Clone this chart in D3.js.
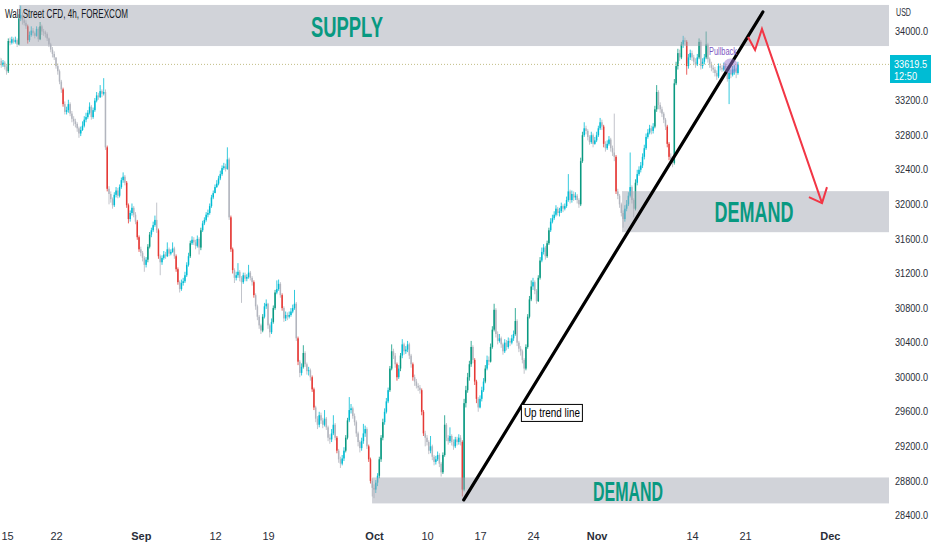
<!DOCTYPE html>
<html>
<head>
<meta charset="utf-8">
<script src="https://cdn.jsdelivr.net/npm/d3@7"></script>
<style>
  html, body { margin: 0; padding: 0; background: #fff; }
  svg { display: block; }
  text { font-family: "Liberation Sans Narrow", "Liberation Sans", Arial, sans-serif; }
</style>
</head>
<body>
<svg id="chart"></svg>
<script>
// Wall Street CFD, 4h bars, 12 Aug - 18 Nov. Each bar opens at the previous close.
const firstOpen = 33700;

const closes = [
  33660, 33610,
  33640, 33590, 33540, 33890, 33870, 33910,   // Aug 15
  33880, 33900, 33850, 34150, 34190, 34130,
  34100, 34060, 33900, 33960, 34010, 33980,
  33950, 34030, 33910, 34060, 34000, 33990,
  33970, 33920, 33850, 33790, 33740, 33700,
  33600, 33540, 33420, 33330, 33160, 33070,   // Aug 22
  33090, 33160, 33050, 32990, 32960, 32930,
  32880, 32820, 32860, 32910, 32980, 33010,
  33060, 33130, 33010, 33090, 33200, 33260,
  33240, 33310, 33280, 33300, 32660, 32180,
  32120, 32060, 31990, 32110, 32160, 32100,   // Aug 29
  32200, 32280, 32320, 32250, 31990, 31830,
  31900, 31960, 31880, 31800, 31620, 31480,
  31440, 31380, 31300, 31360, 31510, 31650,
  31700, 31760, 31820, 31700, 31400, 31330,
  31380, 31420, 31400, 31480, 31430, 31450,   // Sep 5
  31490, 31400, 31250, 31100, 31020, 31090,
  31110, 31180, 31300, 31400, 31550, 31590,
  31560, 31520, 31600, 31500, 31700, 31780,
  31820, 31880, 31900, 31980, 32080, 32130,
  32200, 32240, 32300, 32350, 32420, 32440,   // Sep 12
  32410, 32520, 31850, 31480, 31240, 31150,
  31180, 31220, 31150, 31100, 31180, 31140,
  31160, 31210, 31150, 31100, 30950, 30820,
  30700, 30600, 30540, 30700, 30820, 30850,
  30600, 30520, 30640, 30800, 30980, 31020,   // Sep 19
  31080, 30950, 30800, 30680, 30720, 30700,
  30720, 30760, 30800, 30850, 30450, 30180,
  30050, 30120, 30280, 30150, 30070, 30080,
  30000, 29860, 29650, 29520, 29450, 29560,
  29500, 29450, 29520, 29420, 29300, 29280,   // Sep 26
  29350, 29450, 29300, 29150, 29050, 29000,
  29060, 29150, 29300, 29500, 29620, 29640,
  29550, 29480, 29350, 29250, 29180, 29260,
  29350, 29400, 29200, 29050, 28800, 28720,
  28700, 28780, 28860, 29050, 29300, 29480,   // Oct 3
  29600, 29720, 29850, 30100, 30300, 30250,
  30150, 30000, 30100, 30250, 30380, 30300,
  30320, 30380, 30250, 30150, 30000, 29950,
  29900, 29880, 29850, 29600, 29350, 29300,
  29250, 29150, 29200, 29080, 29020, 29050,   // Oct 10
  29100, 29000, 28900, 29100, 29450, 29300,
  29260, 29320, 29250, 29200, 29280, 29250,
  29300, 29250, 28700, 29700, 29850, 30000,
  30150, 30350, 30200, 29950, 29750, 29650,
  29750, 29850, 29950, 30100, 30200, 30180,   // Oct 17
  30350, 30550, 30780, 30500, 30420, 30450,
  30380, 30300, 30400, 30350, 30420, 30400,
  30450, 30500, 30650, 30400, 30330, 30300,
  30200, 30100, 30350, 30700, 30900, 31050,
  31100, 31000, 30880, 31150, 31350, 31450,   // Oct 24
  31500, 31400, 31550, 31700, 31800, 31840,
  31880, 31950, 31900, 31920, 31980, 31950,
  31980, 32050, 32150, 32050, 32120, 32080,
  32100, 32050, 32000, 32500, 32800, 32880,
  32850, 32780, 32720, 32800, 32700, 32740,   // Oct 31
  32800, 32880, 32950, 32900, 32700, 32650,
  32700, 32750, 32650, 32600, 32550, 32150,
  32100, 32000, 31900, 31830, 31950, 32000,
  32100, 32200, 32050, 31950, 32250, 32350,
  32400, 32450, 32550, 32650, 32780, 32830,   // Nov 7
  32880, 32850, 32900, 33100, 33300, 33150,
  33100, 33050, 32980, 32900, 32700, 32550,
  32520, 32480, 33400, 33600, 33750, 33700,
  33850, 33900, 33880, 33600, 33700, 33750,
  33700, 33650, 33620, 33700, 33880, 33600,   // Nov 14
  33650, 33700, 33850, 33680, 33620, 33580,
  33560, 33520, 33480, 33600, 33580, 33560,
  33600, 33580, 33450, 33520, 33500, 33560,
  33560, 33520, 33619.5
];

const highs = [
  33740, 33690,
  33670, 33660, 33610, 33920, 33930, 33940,
  33930, 33940, 33920, 34200, 34300, 34220,
  34160, 34130, 34080, 34000, 34060, 34040,
  34000, 34060, 34050, 34110, 34080, 34030,
  34010, 33990, 33930, 33870, 33820, 33770,
  33690, 33630, 33560, 33440, 33350, 33190,
  33130, 33210, 33180, 33080, 33020, 32990,
  32950, 32900, 32900, 32960, 33020, 33060,
  33090, 33180, 33150, 33120, 33230, 33300,
  33290, 33380, 33330, 33460, 33330, 32680,
  32210, 32150, 32080, 32140, 32200, 32190,
  32230, 32310, 32370, 32340, 32270, 32010,
  31930, 32010, 31980, 31910, 31820, 31640,
  31510, 31460, 31400, 31390, 31540, 31680,
  31730, 31800, 31870, 32020, 31720, 31420,
  31410, 31460, 31450, 31560, 31500, 31480,
  31560, 31510, 31420, 31270, 31120, 31130,
  31150, 31220, 31330, 31440, 31580, 31630,
  31620, 31590, 31640, 31620, 31730, 31810,
  31850, 31910, 31940, 32010, 32110, 32160,
  32230, 32280, 32330, 32390, 32450, 32480,
  32470, 32660, 32540, 31870, 31500, 31260,
  31220, 31320, 31240, 31170, 31210, 31210,
  31190, 31300, 31230, 31170, 31120, 30970,
  30840, 30720, 30620, 30730, 30860, 30900,
  30860, 30620, 30680, 30830, 31010, 31120,
  31130, 31100, 30970, 30820, 30760, 30750,
  30760, 30800, 30840, 31010, 30870, 30470,
  30200, 30160, 30370, 30300, 30170, 30120,
  30100, 30020, 29880, 29670, 29550, 29600,
  29590, 29530, 29620, 29540, 29440, 29340,
  29400, 29560, 29470, 29320, 29170, 29080,
  29100, 29190, 29330, 29530, 29770, 29690,
  29660, 29580, 29500, 29370, 29270, 29300,
  29460, 29440, 29420, 29220, 29070, 28830,
  28760, 28810, 28890, 29080, 29330, 29520,
  29640, 29760, 29880, 30130, 30380, 30330,
  30280, 30170, 30140, 30280, 30440, 30400,
  30360, 30420, 30400, 30270, 30170, 30030,
  29980, 29930, 29910, 29870, 29620, 29380,
  29330, 29270, 29320, 29220, 29100, 29090,
  29140, 29120, 29020, 29130, 29560, 29470,
  29330, 29420, 29340, 29280, 29310, 29310,
  29340, 29330, 29270, 29750, 29900, 30050,
  30190, 30420, 30370, 30220, 29970, 29770,
  29790, 29890, 29990, 30140, 30250, 30240,
  30390, 30590, 30850, 30800, 30530, 30500,
  30470, 30400, 30440, 30430, 30460, 30450,
  30490, 30540, 30800, 30670, 30420, 30360,
  30320, 30220, 30380, 30730, 30940, 31120,
  31150, 31120, 31020, 31180, 31390, 31500,
  31540, 31520, 31580, 31730, 31840, 31880,
  31920, 31990, 31970, 31960, 32020, 32000,
  32010, 32090, 32350, 32170, 32160, 32150,
  32140, 32120, 32070, 32540, 32840, 32950,
  32910, 32870, 32800, 32840, 32820, 32780,
  32840, 32910, 33000, 32980, 32920, 32730,
  32740, 32790, 32770, 32680, 33050, 32570,
  32180, 32120, 32020, 31930, 31990, 32050,
  32140, 32600, 32220, 32070, 32290, 32400,
  32440, 32490, 32590, 32690, 32820, 32870,
  32920, 32910, 32940, 33140, 33380, 33320,
  33180, 33130, 33070, 33000, 32920, 32720,
  32590, 32560, 33450, 33650, 33800, 33790,
  33880, 33950, 33930, 33900, 33740, 33790,
  33780, 33730, 33690, 33740, 33920, 33900,
  33690, 33740, 34000, 33870, 33700, 33650,
  33610, 33590, 33550, 33630, 33630, 33610,
  33640, 33630, 33600, 33570, 33560, 33600,
  33610, 33580, 33650
];

const lows = [
  33630, 33580,
  33590, 33560, 33500, 33520, 33840, 33850,
  33860, 33860, 33820, 33840, 34120, 34080,
  34070, 34030, 33860, 33880, 33940, 33950,
  33920, 33940, 33880, 33900, 33960, 33950,
  33930, 33890, 33820, 33760, 33700, 33670,
  33570, 33500, 33390, 33290, 33130, 33040,
  33040, 33060, 33020, 32950, 32910, 32890,
  32840, 32770, 32790, 32850, 32890, 32950,
  32990, 33040, 32980, 32990, 33070, 33180,
  33210, 33230, 33240, 33260, 32630, 32150,
  32000, 32020, 31950, 31970, 32080, 32070,
  32080, 32180, 32250, 32220, 31960, 31780,
  31800, 31870, 31850, 31770, 31590, 31450,
  31400, 31340, 31220, 31270, 31330, 31490,
  31620, 31680, 31740, 31670, 31370, 31180,
  31300, 31360, 31370, 31390, 31400, 31410,
  31440, 31370, 31220, 31070, 30980, 31000,
  31060, 31090, 31160, 31280, 31380, 31530,
  31530, 31480, 31500, 31420, 31470, 31680,
  31760, 31800, 31850, 31880, 31960, 32060,
  32140, 32190, 32220, 32280, 32330, 32400,
  32380, 32400, 31820, 31450, 31200, 31090,
  31120, 31150, 31110, 30860, 31080, 31110,
  31110, 31140, 31120, 31060, 30920, 30780,
  30660, 30560, 30500, 30520, 30680, 30790,
  30560, 30460, 30500, 30620, 30780, 30960,
  31000, 30920, 30770, 30640, 30650, 30660,
  30680, 30700, 30740, 30780, 30420, 30140,
  30000, 30020, 30100, 30120, 30030, 30020,
  29960, 29830, 29620, 29480, 29400, 29420,
  29460, 29410, 29430, 29390, 29260, 29230,
  29250, 29330, 29270, 29120, 29010, 28950,
  28980, 29030, 29130, 29280, 29480, 29580,
  29520, 29440, 29310, 29200, 29130, 29150,
  29230, 29310, 29170, 29020, 28770, 28620,
  28600, 28660, 28740, 28830, 29020, 29270,
  29450, 29580, 29700, 29830, 30080, 30210,
  30110, 29960, 29980, 30070, 30220, 30260,
  30270, 30290, 30210, 30110, 29960, 29900,
  29870, 29840, 29810, 29560, 29320, 29200,
  29210, 29110, 29120, 29040, 28980, 28990,
  29030, 28960, 28850, 28880, 29080, 29260,
  29220, 29240, 29210, 29160, 29180, 29210,
  29220, 29210, 28620, 28680, 29650, 29820,
  29960, 30120, 30160, 29910, 29700, 29600,
  29640, 29720, 29830, 29930, 30080, 30140,
  30170, 30330, 30530, 30460, 30380, 30400,
  30340, 30260, 30280, 30310, 30330, 30360,
  30380, 30420, 30480, 30360, 30290, 30250,
  30160, 30040, 30080, 30330, 30680, 30880,
  31010, 30960, 30850, 30870, 31130, 31330,
  31420, 31360, 31380, 31530, 31680, 31780,
  31820, 31860, 31870, 31860, 31900, 31910,
  31930, 31960, 32030, 32010, 32020, 32040,
  32050, 32010, 31960, 31980, 32480, 32780,
  32810, 32740, 32690, 32700, 32660, 32690,
  32720, 32780, 32860, 32860, 32660, 32610,
  32630, 32680, 32610, 32560, 32500, 32120,
  32060, 31960, 31860, 31730, 31800, 31920,
  31980, 32080, 32010, 31850, 31930, 32220,
  32330, 32370, 32420, 32520, 32630, 32760,
  32810, 32810, 32820, 32880, 33070, 33100,
  33060, 33010, 32940, 32860, 32660, 32510,
  32470, 32430, 32460, 33380, 33560, 33660,
  33680, 33810, 33840, 33500, 33570, 33670,
  33660, 33610, 33580, 33600, 33680, 33560,
  33570, 33620, 33680, 33640, 33580, 33540,
  33520, 33480, 33440, 33460, 33550, 33530,
  33540, 33550, 33420, 33160, 33460, 33480,
  33500, 33460, 33500
];

// time axis: bar index of each labelled session (6 bars per session)
const tickBars = [2, 32, 80, 122, 152, 212, 242, 272, 302, 338, 392, 422, 470];
const tickLabels = ["15", "22", "Sep", "12", "19", "Oct", "10", "17", "24", "Nov", "14", "21", "Dec"];
const priceTicks = [34000, 33200, 32800, 32400, 32000, 31600, 31200, 30800, 30400, 30000, 29600, 29200, 28800, 28400];

// drawn zones: start bar, top and bottom price
const zoneLabels = ["SUPPLY", "DEMAND", "DEMAND"];
const zoneStart = [11, 352.4, 210.9];
const zoneTop = [34307, 32153, 28840];
const zoneBottom = [33832, 31678, 28540];
const zoneTextBar = [196.7, 427.1, 355.8];
const zoneTextPrice = [33936, 31794, 28562];

// up trend line and projected path
const trendBars = [262.8, 432.1];
const trendPrices = [28580, 34226];
const pathBars = [423.7, 427.7, 431.6, 465.6];
const pathPrices = [33936, 33786, 34029, 32014];
const headBars = [458.2, 465.6, 468.4];
const headPrices = [32083, 32014, 32199];
const pullbackBar = 413.8, pullbackPrice = 33600;
const lastPrice = 33619.5, countdown = "12:50";

const W = 932, H = 550;
const plotRight = 889, plotBottom = 525;

const svg = d3.select("#chart").attr("width", W).attr("height", H);

const x = d3.scaleLinear().domain([2, 422]).range([3, 745]);
const y = d3.scaleLinear().domain([28400, 34000]).range([515.5, 31.5]);

const candles = closes.map((c, i) => {
    const o = i === 0 ? firstOpen : closes[i - 1];
    return { i, o, c, h: Math.max(highs[i], o, c), l: Math.min(lows[i], o, c) };
});

function candleColor(d) {
    const body = Math.abs(d.c - d.o);
    if (d.c >= d.o) return body >= 140 ? "#089981" : "#00bcd4";
    const prev = candles[d.i - 1];
    if (prev && prev.c < prev.o && body >= 140) return "#e53935";
    return "#b2b5be";
}

svg.append("defs").append("clipPath").attr("id", "plot")
    .append("rect").attr("x", 0).attr("y", 0).attr("width", plotRight).attr("height", plotBottom);

const plot = svg.append("g").attr("clip-path", "url(#plot)");

// candles
const cg = plot.append("g");
cg.selectAll("line")
    .data(candles)
    .join("line")
    .attr("x1", d => x(d.i)).attr("x2", d => x(d.i))
    .attr("y1", d => y(d.h)).attr("y2", d => y(d.l))
    .attr("stroke", candleColor)
    .attr("stroke-width", 0.8);

cg.selectAll("rect")
    .data(candles)
    .join("rect")
    .attr("x", d => x(d.i) - 0.75)
    .attr("width", 1.5)
    .attr("y", d => y(Math.max(d.o, d.c)))
    .attr("height", d => Math.max(0.8, Math.abs(y(d.o) - y(d.c))))
    .attr("fill", candleColor);

// last price line
plot.append("line")
    .attr("x1", 0).attr("x2", plotRight)
    .attr("y1", y(lastPrice)).attr("y2", y(lastPrice))
    .attr("stroke", "#c2bd86")
    .attr("stroke-width", 1)
    .attr("stroke-dasharray", "1,2");

// zones
plot.append("g").selectAll("rect")
    .data(zoneLabels)
    .join("rect")
    .attr("x", (d, k) => x(zoneStart[k]))
    .attr("width", (d, k) => plotRight - x(zoneStart[k]))
    .attr("y", (d, k) => y(zoneTop[k]))
    .attr("height", (d, k) => y(zoneBottom[k]) - y(zoneTop[k]))
    .attr("fill", "#a3a7b3")
    .attr("opacity", 0.5);

const zoneTextWidth = [72, 79, 70];
const zoneFont = [29, 30, 27];
plot.append("g").selectAll("text")
    .data(zoneLabels)
    .join("text")
    .attr("x", (d, k) => x(zoneTextBar[k]) - zoneTextWidth[k] / 2)
    .attr("y", (d, k) => y(zoneTextPrice[k]))
    .attr("textLength", (d, k) => zoneTextWidth[k])
    .attr("lengthAdjust", "spacingAndGlyphs")
    .attr("font-size", (d, k) => zoneFont[k])
    .attr("font-weight", "bold")
    .attr("fill", "#089981")
    .text(d => d);

// trend line
plot.append("line")
    .attr("x1", x(trendBars[0])).attr("y1", y(trendPrices[0]))
    .attr("x2", x(trendBars[1])).attr("y2", y(trendPrices[1]))
    .attr("stroke", "#000")
    .attr("stroke-width", 3.2)
    .attr("stroke-linecap", "round");

// label box for trend line
const lbl = plot.append("g").attr("transform", `translate(${x(312.7)},${y(29581)})`);
lbl.append("rect").attr("x", -30.5).attr("y", -9).attr("width", 61).attr("height", 17)
    .attr("fill", "#fff").attr("stroke", "#000").attr("stroke-width", 1);
lbl.append("text").attr("x", -28).attr("y", 4)
    .attr("font-size", 12).attr("fill", "#000")
    .attr("textLength", 56).attr("lengthAdjust", "spacingAndGlyphs")
    .text("Up trend line");

// projected move
const pathLine = d3.line().x(d => x(d[0])).y(d => y(d[1]));
plot.append("path")
    .attr("d", pathLine(pathBars.map((b, k) => [b, pathPrices[k]])))
    .attr("fill", "none").attr("stroke", "#f23645").attr("stroke-width", 2)
    .attr("stroke-linejoin", "miter");
plot.append("path")
    .attr("d", pathLine(headBars.map((b, k) => [b, headPrices[k]])))
    .attr("fill", "none").attr("stroke", "#f23645").attr("stroke-width", 2);

// pullback marker
plot.append("circle")
    .attr("cx", x(pullbackBar)).attr("cy", y(pullbackPrice)).attr("r", 7.5)
    .attr("fill", "#9575cd").attr("opacity", 0.5);
plot.append("text")
    .attr("x", x(401.6)).attr("y", y(33728))
    .attr("font-size", 10).attr("fill", "#7e57c2")
    .attr("textLength", 28).attr("lengthAdjust", "spacingAndGlyphs")
    .text("Pullback");

// title
svg.append("text")
    .attr("x", 5).attr("y", 18)
    .attr("font-size", 12.5).attr("fill", "#131722")
    .attr("textLength", 123).attr("lengthAdjust", "spacingAndGlyphs")
    .text("Wall Street CFD, 4h, FOREXCOM");

// price axis
const yAxis = svg.append("g")
    .attr("transform", `translate(${plotRight + 1},0)`)
    .call(d3.axisRight(y).tickValues(priceTicks).tickFormat(d3.format(".1f")).tickSize(0).tickPadding(5));
yAxis.select(".domain").remove();
yAxis.selectAll("text")
    .attr("font-size", 10).attr("fill", "#2a2e39").attr("font-family", null)
    .attr("textLength", 33).attr("lengthAdjust", "spacingAndGlyphs");

svg.append("text").attr("x", 896).attr("y", 16).attr("font-size", 10).attr("fill", "#2a2e39")
    .attr("textLength", 15).attr("lengthAdjust", "spacingAndGlyphs").text("USD");

// last price tag
svg.append("rect").attr("x", 890).attr("y", 55).attr("width", 41).attr("height", 28).attr("fill", "#00bcd4");
svg.append("text").attr("x", 894).attr("y", y(lastPrice) + 4).attr("font-size", 10).attr("fill", "#fff")
    .attr("textLength", 33).attr("lengthAdjust", "spacingAndGlyphs")
    .text(d3.format(".1f")(lastPrice));
svg.append("text").attr("x", 894).attr("y", y(lastPrice) + 16).attr("font-size", 10).attr("fill", "#fff")
    .attr("textLength", 23).attr("lengthAdjust", "spacingAndGlyphs")
    .text(countdown);

// time axis
const xAxis = svg.append("g")
    .attr("transform", `translate(0,${plotBottom + 2})`)
    .call(d3.axisBottom(x).tickValues(tickBars).tickFormat((d, k) => tickLabels[k]).tickSize(0).tickPadding(5));
xAxis.select(".domain").remove();
xAxis.selectAll("text")
    .attr("font-size", 11)
    .attr("fill", "#2a2e39")
    .attr("font-family", null)
    .attr("font-weight", (d, k) => isNaN(+tickLabels[k]) ? "bold" : "normal");
// first label sits at the left edge: keep it inside the picture
xAxis.selectAll("text").filter((d, k) => k === 0)
    .attr("text-anchor", "start")
    .attr("x", 1 - x(tickBars[0]));
</script>
</body>
</html>
